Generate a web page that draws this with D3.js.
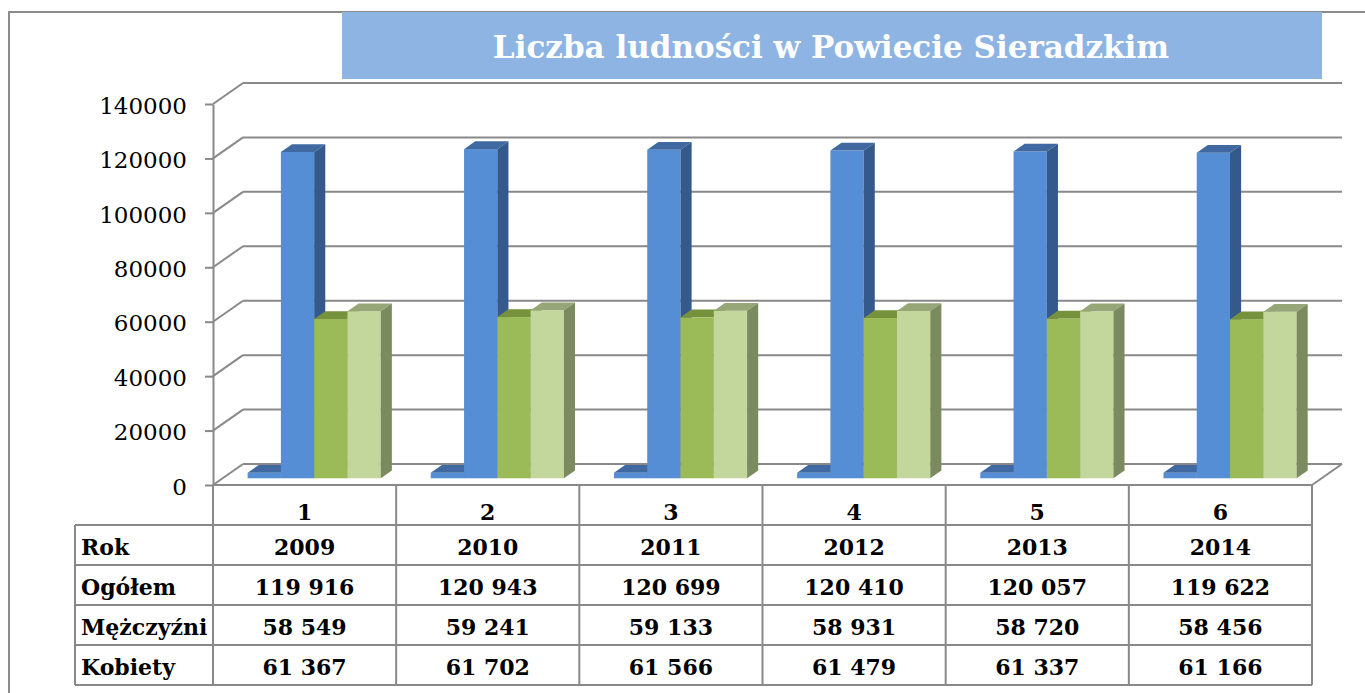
<!DOCTYPE html>
<html>
  <head>
    <meta charset="utf-8">
    <title>Liczba ludności w Powiecie Sieradzkim</title>
<style>
body { margin: 0; background: #fff; }
svg { display: block; }
.grid line, .grid path { stroke: #898989; stroke-width: 2px; fill: none; }
.axis path, .axis line { stroke: #898989; stroke-width: 2px; }
.axis text { font: 23px "DejaVu Serif", serif; fill: #000; }
.tbl line { stroke: #898989; stroke-width: 2px; }
.tbl text { font: bold 22px "DejaVu Serif", serif; fill: #000; }
</style>
	<script src="https://d3js.org/d3.v7.min.js"></script>
  </head>
  <body>
	<script type="text/javascript">

		var categories = ["1", "2", "3", "4", "5", "6"];
		var seriesNames = ["Rok", "Ogółem", "Mężczyźni", "Kobiety"];
		var rok = [2009, 2010, 2011, 2012, 2013, 2014];
		var ogolem = [119916, 120943, 120699, 120410, 120057, 119622];
		var mezczyzni = [58549, 59241, 59133, 58931, 58720, 58456];
		var kobiety = [61367, 61702, 61566, 61479, 61337, 61166];
		var yTicks = [0, 20000, 40000, 60000, 80000, 100000, 120000, 140000];
		var title = "Liczba ludności w Powiecie Sieradzkim";

		var seriesValues = [rok, ogolem, mezczyzni, kobiety];
		// front, top, side colours per series
		var colors = [
			["#558ed5", "#3f69a0", "#34598a"],
			["#558ed5", "#3f69a0", "#34598a"],
			["#9bbb59", "#76923c", "#6f8838"],
			["#c3d69b", "#96a677", "#7b8a5f"]
		];

		var W = 1365, H = 693;
		var plot = {left: 213, right: 1312, top: 104, bottom: 485};
		var depth = {dx: 30, dy: -21};          // 3D depth of the floor/walls
		var barFront = 0.32, barDepth = 0.37;   // bar position inside that depth

		var svg = d3.select("body").append("svg")
			.attr("width", W)
			.attr("height", H);

		// outer chart border
		svg.append("path")
			.attr("d", "M9," + H + "V12H" + W)
			.attr("fill", "none")
			.attr("stroke", "#8c8c8c")
			.attr("stroke-width", 2);

		// title box
		svg.append("rect")
			.attr("x", 342).attr("y", 12)
			.attr("width", 980).attr("height", 67)
			.attr("fill", "#8eb4e3");
		svg.append("text")
			.attr("x", 831).attr("y", 58)
			.attr("text-anchor", "middle")
			.style("font", "bold 31px 'DejaVu Serif', serif")
			.style("fill", "#fff")
			.text(title);

		// scales
		var y = d3.scaleLinear().domain([0, 140000]).range([plot.bottom, plot.top]);
		var x = d3.scaleBand().domain(categories).range([plot.left, plot.right]);
		var xs = d3.scaleBand().domain(seriesNames).range([25, x.bandwidth() - 25]);

		// walls: back gridlines + side wall diagonals + floor
		var grid = svg.append("g").attr("class", "grid");
		grid.selectAll(".back").data(yTicks).enter().append("line")
			.attr("x1", plot.left + depth.dx).attr("x2", plot.right + depth.dx)
			.attr("y1", function(d) { return y(d) + depth.dy; })
			.attr("y2", function(d) { return y(d) + depth.dy; });
		grid.selectAll(".side").data(yTicks).enter().append("line")
			.attr("x1", plot.left).attr("x2", plot.left + depth.dx)
			.attr("y1", function(d) { return y(d); })
			.attr("y2", function(d) { return y(d) + depth.dy; });
		grid.append("line")
			.attr("x1", plot.right).attr("y1", y(0))
			.attr("x2", plot.right + depth.dx).attr("y2", y(0) + depth.dy);

		// y axis
		svg.append("g")
			.attr("class", "axis")
			.attr("transform", "translate(" + plot.left + ",0)")
			.call(d3.axisLeft(y).tickValues(yTicks).tickSize(8).tickSizeOuter(0).tickPadding(18).tickFormat(d3.format("d")))
			.selectAll("text").attr("dy", "0.4em");

		// bars
		var bdx = depth.dx * barFront, bdy = depth.dy * barFront;
		var ddx = depth.dx * barDepth, ddy = depth.dy * barDepth;
		var bars = [];
		categories.forEach(function(c, i) {
			seriesNames.forEach(function(s, j) {
				bars.push({cat: c, s: s, j: j, v: seriesValues[j][i]});
			});
		});

		var barG = svg.append("g").selectAll("g").data(bars).enter().append("g");
		function geom(d) {
			var l = x(d.cat) + xs(d.s) + bdx, r = l + xs.bandwidth();
			var t = y(d.v) + bdy, b = y(0) + bdy;
			return {l: l, r: r, t: t, b: b};
		}
		barG.append("rect")
			.attr("x", function(d) { return geom(d).l; })
			.attr("y", function(d) { return geom(d).t; })
			.attr("width", xs.bandwidth())
			.attr("height", function(d) { var g = geom(d); return g.b - g.t; })
			.attr("fill", function(d) { return colors[d.j][0]; });
		barG.append("polygon")
			.attr("points", function(d) {
				var g = geom(d);
				return [[g.l, g.t], [g.r, g.t], [g.r + ddx, g.t + ddy], [g.l + ddx, g.t + ddy]].join(" ");
			})
			.attr("fill", function(d) { return colors[d.j][1]; });
		barG.append("polygon")
			.attr("points", function(d) {
				var g = geom(d);
				return [[g.r, g.t], [g.r + ddx, g.t + ddy], [g.r + ddx, g.b + ddy], [g.r, g.b]].join(" ");
			})
			.attr("fill", function(d) { return colors[d.j][2]; });

		// data table under the chart
		var rows = ["cat"].concat(seriesNames);
		var ry = d3.scaleBand().domain(rows).range([plot.bottom, 685]);
		var labelLeft = 75;
		var fmt = d3.formatLocale({decimal: ",", thousands: " ", grouping: [3], currency: ["", " zł"]}).format(",d");
		var tbl = svg.append("g").attr("class", "tbl");

		tbl.append("line")
			.attr("x1", plot.left).attr("x2", plot.right)
			.attr("y1", plot.bottom).attr("y2", plot.bottom);
		tbl.selectAll(".h").data(seriesNames).enter().append("line")
			.attr("x1", labelLeft).attr("x2", plot.right)
			.attr("y1", function(d) { return ry(d); })
			.attr("y2", function(d) { return ry(d); });
		tbl.append("line")
			.attr("x1", labelLeft).attr("x2", plot.right)
			.attr("y1", 685).attr("y2", 685);
		tbl.selectAll(".v").data(categories.concat(["end"])).enter().append("line")
			.attr("x1", function(d) { return d === "end" ? plot.right : x(d); })
			.attr("x2", function(d) { return d === "end" ? plot.right : x(d); })
			.attr("y1", plot.bottom).attr("y2", 685);
		tbl.append("line")
			.attr("x1", labelLeft).attr("x2", labelLeft)
			.attr("y1", ry("Rok")).attr("y2", 685);

		// category numbers
		tbl.selectAll(".cat").data(categories).enter().append("text")
			.attr("x", function(d) { return x(d) + x.bandwidth() / 2; })
			.attr("y", ry("cat") + 35)
			.attr("text-anchor", "middle")
			.text(function(d) { return d; });

		// row labels + values
		seriesNames.forEach(function(s, j) {
			tbl.append("text")
				.attr("x", 81)
				.attr("y", ry(s) + ry.bandwidth() / 2 + 10)
				.text(s);
			tbl.selectAll(".val" + j).data(seriesValues[j]).enter().append("text")
				.attr("x", function(d, i) { return x(categories[i]) + x.bandwidth() / 2; })
				.attr("y", ry(s) + ry.bandwidth() / 2 + 10)
				.attr("text-anchor", "middle")
				.text(function(d) { return j === 0 ? d : fmt(d); });
		});

    </script>
  </body>
</html>
